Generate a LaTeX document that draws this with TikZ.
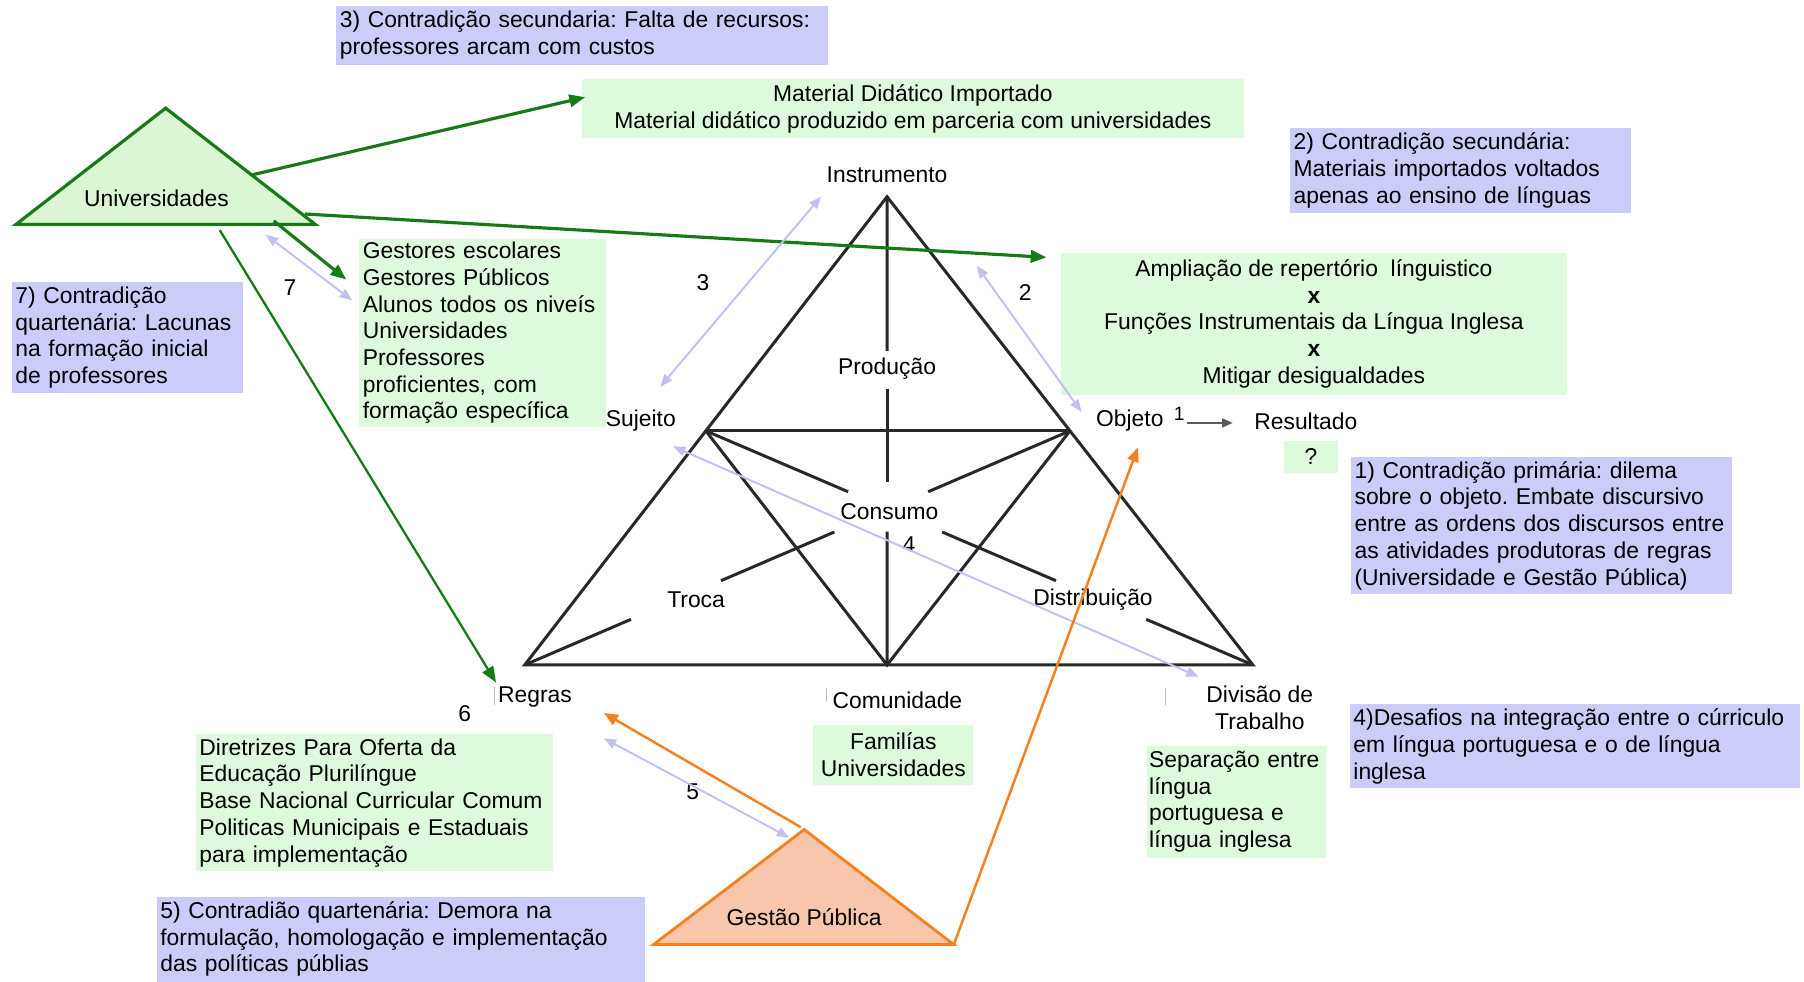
\documentclass[tikz,border=0pt]{standalone}
\usepackage{fontspec}
\setmainfont{Liberation Sans}
\usetikzlibrary{arrows.meta,calc}
\frenchspacing

\definecolor{lilas}{RGB}{204,204,250}
\definecolor{verdeclaro}{RGB}{221,250,221}
\definecolor{verde}{RGB}{22,122,22}
\definecolor{univfill}{RGB}{218,246,210}
\definecolor{laranja}{RGB}{245,128,30}
\definecolor{gestfill}{RGB}{248,198,170}
\definecolor{seta}{RGB}{192,192,242}
\definecolor{traco}{RGB}{40,40,40}
\definecolor{tique}{RGB}{200,185,170}
\definecolor{cinza}{RGB}{90,90,90}

\tikzset{
  texto/.style={font=\fontsize{13}{15.2}\selectfont, inner sep=1pt},
  caixa/.style={texto, fill=#1, inner xsep=2pt, inner ysep=2pt, anchor=north west, align=left},
  caixac/.style={texto, fill=#1, inner sep=2pt, align=center},
  linha/.style={traco, line width=1.7pt},
  flverde/.style={verde, line width=1.8pt, -{Triangle[length=9pt,width=7pt]}},
  fllilas/.style={seta, line width=1.1pt, {Triangle[length=7pt,width=5.5pt]}-{Triangle[length=7pt,width=5.5pt]}},
  fllaranja/.style={laranja, line width=1.4pt, -{Triangle[length=8pt,width=6.5pt]}},
  tracinho/.style={tique, line width=0.6pt}
}

\begin{document}
\begin{tikzpicture}[x=0.023cm, y=-0.023cm]
\useasboundingbox (0,0) rectangle (1568,853);

% activity system
\coordinate (inst) at (771,171);
\coordinate (reg) at (456,578);
\coordinate (div) at (1089,578);
\coordinate (com) at (771,578);
\coordinate (suj) at ($(inst)!0.5!(reg)$);
\coordinate (obj) at ($(inst)!0.5!(div)$);

\draw[linha] (inst) -- (reg) -- (div) -- cycle;
\draw[linha] (suj) -- (obj);
\draw[linha] (suj) -- (com) -- (obj);
% vertical, cut by the labels
\draw[linha] (inst) -- ($(inst)!0.329!(com)$);
\draw[linha] ($(inst)!0.41!(com)$) -- ($(inst)!0.609!(com)$);
\draw[linha] ($(inst)!0.715!(com)$) -- (com);
% diagonals
\foreach \a/\b in {0/0.26, 0.432/0.64, 0.805/1}{
  \draw[linha] ($(suj)!\a!(div)$) -- ($(suj)!\b!(div)$);
  \draw[linha] ($(obj)!\a!(reg)$) -- ($(obj)!\b!(reg)$);
}

\node[texto] (linst) at (771,152) {Instrumento};
\node[texto] (lsuj) at (557,366) {Sujeito};
\node[texto] (lobj) at (982,366) {Objeto};
\node[texto] (lres) at (1135,366) {Resultado};
\node[texto] (lreg) at (465,606) {Regras};
\node[texto] (lcom) at (780,609) {Comunidade};
\node[texto, align=center] (ldiv) at (1095,615) {Divisão de\\Trabalho};
\node[texto] (lprod) at (771,320) {Produção};
\node[texto] (lcons) at (773,445) {Consumo};
\node[texto] (ltroca) at (605,521) {Troca};
\node[texto] (ldistr) at (950,521) {Distribuição};

% numbers
\node[texto, font=\fontsize{11}{13}\selectfont] (n1) at (1025,360) {1};
\node[texto] (n2) at (891,254) {2};
\node[texto] (n3) at (611,246) {3};
\node[texto] (n4) at (790,473) {4};
\node[texto] (n5) at (602,688) {5};
\node[texto] (n6) at (404,620) {6};
\node[texto] (n7) at (252,250) {7};

\draw[cinza, line width=1pt, -{Triangle[length=6pt,width=5pt]}] (n1.south east) -- ++(40,0);

% little marks
\draw[tracinho] (430,597) -- (430,613);
\draw[tracinho] (718,598) -- (718,609);
\draw[tracinho] (1013,598) -- (1013,613);

% contradictions
\node[caixa=lilas, text width=9.68cm, minimum height=1.173cm] (contr3) at (292,5)
  {3) Contradição secundaria: Falta de recursos:\\professores arcam com custos};
\node[caixa=lilas, text width=6.67cm, minimum height=1.702cm] (contr2) at (1121,111)
  {2) Contradição secundária:\\Materiais importados voltados\\apenas ao ensino de línguas};
\node[caixa=lilas, text width=4.48cm, minimum height=2.208cm] (contr7) at (10,245)
  {7) Contradição\\quartenária: Lacunas\\na formação inicial\\de professores};
\node[caixa=lilas, text width=7.47cm, minimum height=2.737cm] (contr1) at (1174,397)
  {1) Contradição primária: dilema\\sobre o objeto. Embate discursivo\\entre as ordens dos discursos entre\\as atividades produtoras de regras\\(Universidade e Gestão Pública)};
\node[caixa=lilas, text width=8.85cm, minimum height=1.679cm] (contr4) at (1173,612)
  {4)Desafios na integração entre o cúrriculo\\em língua portuguesa e o de língua\\inglesa};
\node[caixa=lilas, text width=9.61cm, minimum height=1.702cm] (contr5) at (136,779)
  {5) Contradião quartenária: Demora na\\formulação, homologação e implementação\\das políticas públias};

% contents
\node[caixac=verdeclaro, minimum width=13.225cm, minimum height=1.173cm] (matdid) at (793.5,94.5)
  {Material Didático Importado\\Material didático produzido em parceria com universidades};
\node[caixac=verdeclaro, minimum width=10.12cm, minimum height=2.829cm] (ampl) at (1142,281.5)
  {Ampliação de repertório\ \ línguistico\\\textbf{x}\\Funções Instrumentais da Língua Inglesa\\\textbf{x}\\Mitigar desigualdades};
\node[caixa=verdeclaro, text width=4.78cm, minimum height=3.772cm] (gestores) at (312,207)
  {Gestores escolares\\Gestores Públicos\\Alunos todos os niveís\\Universidades\\Professores\\proficientes, com\\formação específica};
\node[caixac=verdeclaro, minimum width=1.081cm, minimum height=0.644cm] (resq) at (1139.5,397) {?};
\node[caixa=verdeclaro, text width=6.99cm, minimum height=2.737cm] (diretr) at (170,638)
  {Diretrizes Para Oferta da\\Educação Plurilíngue\\Base Nacional Curricular Comum\\Politicas Municipais e Estaduais\\para implementação};
\node[caixac=verdeclaro, minimum width=3.197cm, minimum height=1.196cm] (famil) at (776.5,656)
  {Familías\\Universidades};
\node[caixa=verdeclaro, inner xsep=1pt, text width=3.5cm, minimum height=2.231cm] (separ) at (997,648)
  {Separação entre\\língua\\portuguesa e\\língua inglesa};

% universidades
\coordinate (u1) at (144,94);
\coordinate (u2) at (14,195);
\coordinate (u3) at (274,195);
\draw[verde, fill=univfill, line width=1.8pt] (u1) -- (u2) -- (u3) -- cycle;
\node[texto] (univ) at (136,172) {Universidades};

% gestao publica
\coordinate (g1) at (699,721);
\coordinate (g2) at (568,821);
\coordinate (g3) at (829,821);
\draw[laranja, fill=gestfill, line width=1.6pt] (g1) -- (g2) -- (g3) -- cycle;
\node[texto] (gestao) at (699,797) {Gestão Pública};

% arrow ends
\coordinate (uMat) at (219,152);
\coordinate (uAmp) at (265,186);
\coordinate (uGes) at (238,192);
\coordinate (uReg) at (191,200);
\coordinate (uLil) at (231,204);
\coordinate (gLil) at (686,728);
\coordinate (gReg) at (696,719);

% green arrows
\draw[flverde] (uMat) -- ($(matdid.west)+(3,-10)$);
\draw[flverde] (uAmp) -- ($(ampl.north west)+(-12,4)$);
\draw[flverde] (uGes) -- ($(gestores.north west)+(-11,36)$);
\draw[flverde, line width=1.3pt] (uReg) -- ($(lreg.north west)+(0,-2)$);

% lilac arrows
\draw[fllilas] (uLil) -- ($(gestores.north west)+(-6,54)$);
\draw[fllilas] ($(linst.south west)+(-3,10)$) -- (574,336);
\draw[fllilas] (849,231) -- (940,358);
\draw[fllilas] (585,388) -- ($(ldiv.north west)+(-5,-6)$);
\draw[fllilas] ($(lreg.south east)+(26,25)$) -- (gLil);

% orange arrows
\draw[fllaranja] (gReg) -- ($(lreg.south east)+(26,3)$);
\draw[fllaranja] (g3) -- ($(lobj.south)+(7,12)$);

\end{tikzpicture}
\end{document}
